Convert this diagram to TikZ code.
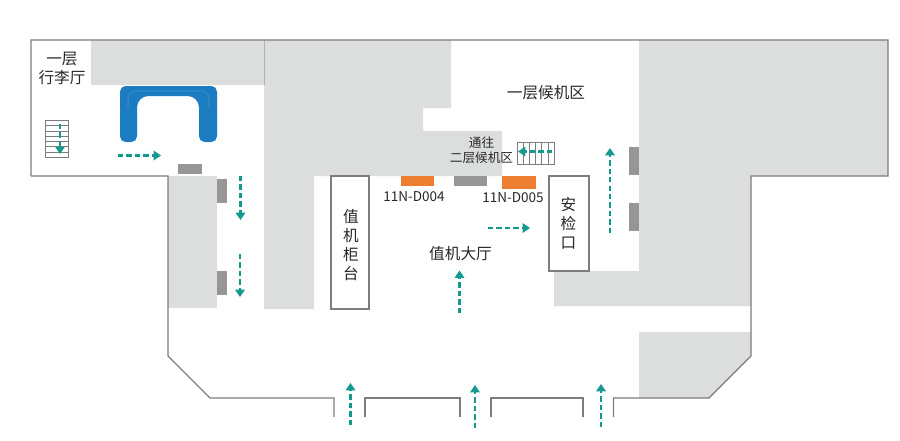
\documentclass[tikz,border=0pt]{standalone}
\usepackage{fontspec}
\setmainfont{Noto Sans CJK SC}
\definecolor{zoneGray}{RGB}{220, 221, 221}
\definecolor{wallGray}{RGB}{125, 125, 125}
\definecolor{doorGray}{RGB}{150, 150, 150}
\definecolor{gateOrange}{RGB}{237, 125, 49}
\definecolor{beltBlue}{RGB}{27, 124, 194}
\definecolor{beltLight}{RGB}{70, 150, 208}
\definecolor{flowTeal}{RGB}{19, 153, 142}
\definecolor{labelInk}{RGB}{40, 40, 40}
\usetikzlibrary{arrows.meta}

\begin{document}
\begin{tikzpicture}[x=0.02cm,y=-0.02cm,
                zone/.style={fill=zoneGray},
                wall/.style={draw=wallGray,line width=0.65pt},
                door/.style={fill=doorGray},
                gate/.style={fill=gateOrange},
                desk/.style={draw=wallGray,line width=0.6pt,fill=white},
                rung/.style={draw=wallGray,line width=0.4pt},
                flow/.style={draw=flowTeal,line width=1.15pt,dash pattern=on 3pt off 1.8pt,
                             -{Triangle[length=4.2pt,width=5.4pt]}},
                area/.style={font=\fontsize{8.9}{10.8}\selectfont,align=center,text=labelInk,inner sep=0pt},
                small/.style={font=\fontsize{7.2}{8.6}\selectfont,align=center,text=labelInk,inner sep=0pt},
                code/.style={font=\fontsize{7.7}{9}\selectfont,text=labelInk,inner sep=0pt}
            ]
                \useasboundingbox (0,0) rectangle (900,440);
                \fill[white] (0,0) rectangle (900,440);
                \fill[zone] (91,40) rectangle (264,85);
                \fill[zone] (264,40) -- (451,40) -- (451,108) -- (423,108) -- (423,131) -- (502,131)
                    -- (502,176) -- (314,176) -- (314,309) -- (264,309) -- cycle;
                \fill[zone] (168,176) rectangle (217,308);
                \fill[zone] (639,40) -- (888,40) -- (888,176) -- (751,176) -- (751,306) -- (554,306)
                    -- (554,271) -- (639,271) -- cycle;
                \fill[zone] (639,332) -- (751,332) -- (751,356) -- (709,398) -- (639,398) -- cycle;
                \draw[wallGray!60,line width=0.4pt] (264,40) -- (264,85);

                \draw[wall] (31,176) -- (31,40) -- (888,40) -- (888,176) -- (751,176) -- (751,356)
                    -- (709,398) -- (613.5,398) -- (613.5,417);
                \draw[wall] (31,176) -- (168,176) -- (168,356) -- (210,398) -- (334,398) -- (334,417);
                \draw[wall] (365,417) -- (365,398) -- (460,398) -- (460,417);
                \draw[wall] (491,417) -- (491,398) -- (583,398) -- (583,417);

                \fill[beltBlue,rounded corners=3.2pt] (120,115) -- (120,86) -- (217,86) -- (217,142)
                    -- (199,142) -- (199,120) [rounded corners=6.5pt] -- (199,96) -- (137,96) -- (137,120)
                    [rounded corners=3.2pt] -- (137,142) -- (120,142) -- cycle;
                \draw[beltLight,line width=0.3pt,rounded corners=4.5pt] (128,108) -- (128,91) -- (209,91) -- (209,108);

                \fill[door] (178,164) rectangle (202,174);
                \fill[door] (217,179) rectangle (227,203);
                \fill[door] (217,271) rectangle (227,295);
                \fill[door] (454,176) rectangle (486.5,186);
                \fill[door] (629,147) rectangle (639,175);
                \fill[door] (629,203) rectangle (639,231);
                \fill[gate] (401,176) rectangle (434,186);
                \fill[gate] (501.5,176) rectangle (536,189);

                \node[desk,minimum width=0.76cm,minimum height=2.66cm,inner sep=0pt] (counterBox) at (350,242.5) {};
                \node[desk,minimum width=0.8cm,minimum height=1.9cm,inner sep=0pt] (checkBox) at (569,223.5) {};

                \draw[rung] (45.5,120.5) rectangle (68,157);
                \draw[rung] (45.5,125.5) -- (68,125.5) (45.5,131) -- (68,131) (45.5,136) -- (68,136)
                    (45.5,141) -- (68,141) (45.5,146.5) -- (68,146.5) (45.5,152) -- (68,152);
                \draw[rung] (517.5,142) rectangle (554.5,164.5);
                \draw[rung] (523.5,142) -- (523.5,164.5) (529.5,142) -- (529.5,164.5) (535.5,142) -- (535.5,164.5)
                    (541.5,142) -- (541.5,164.5) (548,142) -- (548,164.5);

                \draw[flow] (60,124) -- (60,154);
                \draw[flow] (118,155.5) -- (161,155.5);
                \draw[flow] (240.5,176) -- (240.5,220);
                \draw[flow] (240,254) -- (240,297);
                \draw[flow] (610,233) -- (610,148);
                \draw[flow] (488,228) -- (530,228);
                \draw[flow] (459.5,313) -- (459.5,270.5);
                \draw[flow] (350.5,425) -- (350.5,383);
                \draw[flow] (475,428) -- (475,385);
                \draw[flow] (601,427) -- (601,384);
                \draw[flow] (552,151.5) -- (518,151.5);

                \node[area] (luggageHall) at (62,68.5) {一层\\行李厅};
                \node[area] (waitingHall) at (546,93) {一层候机区};
                \node[small] (upperLink) at (481.5,150.5) {通往\\二层候机区};
                \node[area] (checkinHall) at (460.5,254) {值机大厅};
                \node[area] (counterLabel) at (351,245.5) {值\\机\\柜\\台};
                \node[area] (checkLabel) at (568.5,223.5) {安\\检\\口};
                \node[code] (gateFour) at (414,197) {11N-D004};
                \node[code] (gateFive) at (513,198) {11N-D005};
            \end{tikzpicture}
\end{document}
